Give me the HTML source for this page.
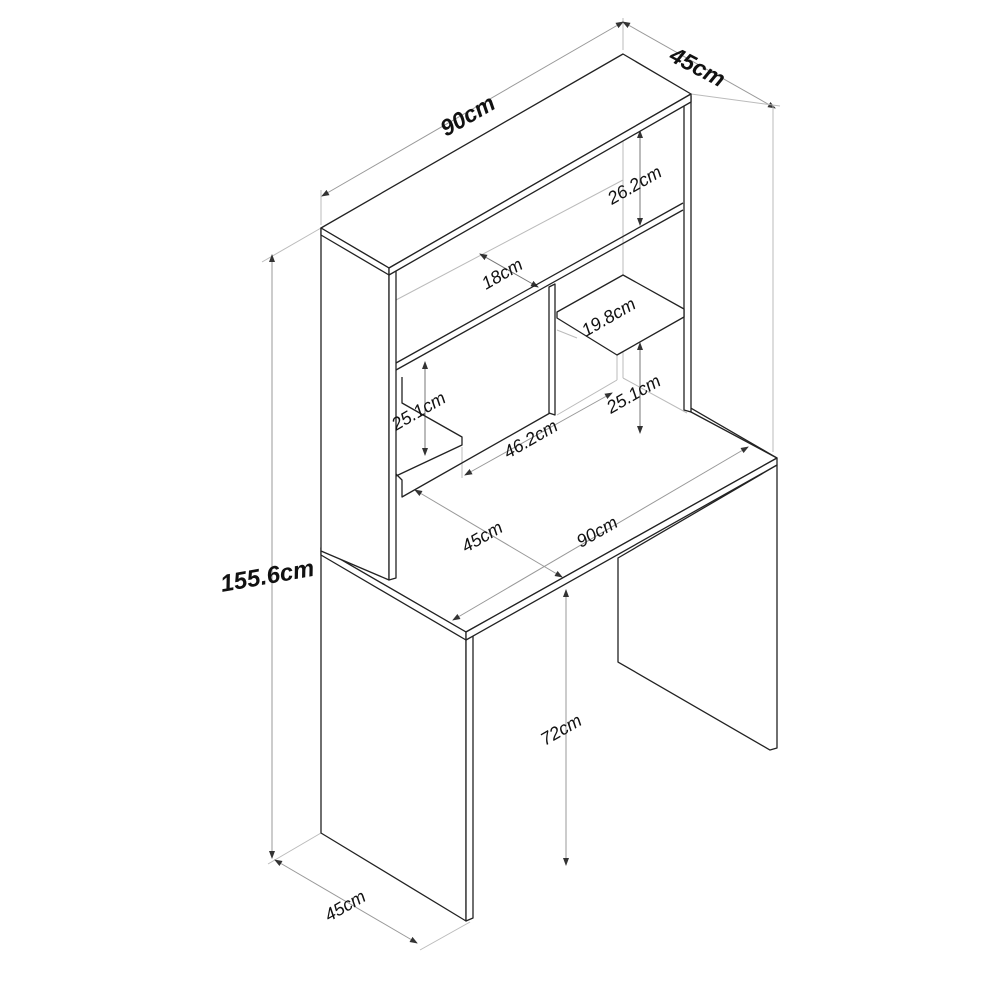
<!DOCTYPE html>
<html><head><meta charset="utf-8"><style>
html,body{margin:0;padding:0;background:#fff;}
svg{display:block}
text{font-family:"Liberation Sans",sans-serif;font-style:italic;fill:#111}
</style></head><body>
<svg width="1000" height="1000" viewBox="0 0 1000 1000" xmlns="http://www.w3.org/2000/svg">
<defs>
<marker id="a" markerWidth="8" markerHeight="8" refX="7" refY="4" orient="auto-start-reverse" markerUnits="userSpaceOnUse">
<path d="M0,1 L8,4 L0,7 z" fill="#333"/></marker>
</defs>
<g fill="none" stroke="#bbb" stroke-width="1">
<line x1="321" y1="225" x2="321" y2="190"/>
<line x1="623" y1="50" x2="623" y2="18"/>
<line x1="322" y1="196" x2="623" y2="22" stroke="#999" marker-start="url(#a)" marker-end="url(#a)"/>
<line x1="623" y1="22" x2="775" y2="108" stroke="#999" marker-start="url(#a)" marker-end="url(#a)"/>
<line x1="691" y1="94" x2="780" y2="106"/>
<line x1="773" y1="105" x2="773" y2="452"/>
<line x1="321" y1="228" x2="262" y2="262"/>
<line x1="272" y1="255" x2="272" y2="858" stroke="#999" marker-start="url(#a)" marker-end="url(#a)"/>
<line x1="321" y1="833" x2="268" y2="864"/>
<line x1="275" y1="860" x2="417" y2="943" stroke="#999" marker-start="url(#a)" marker-end="url(#a)"/>
<line x1="470" y1="922" x2="420" y2="950"/>
</g>
<g fill="#fff" stroke="#222" stroke-width="1.3" stroke-linejoin="round">
<polygon points="618,558 777,465 777,748 770,750 618,662"/>
<polygon points="321,551 466,637 466,921 321,833"/>
<polygon points="466,637 473,633 473,918 466,921"/>
<polygon points="321,548 632,374 777,458 466,632"/>
<polygon points="321,548 466,632 466,640 321,555"/>
<polygon points="466,632 777,458 777,465 466,640"/>
</g>
<polygon points="321,228 623,54 691,94 691,412 389,580 321,551" fill="#fff" stroke="none"/>
<g fill="none" stroke="#bbb" stroke-width="1">
<line x1="396" y1="300" x2="623" y2="180"/>
<line x1="623" y1="130" x2="623" y2="378"/>
<line x1="623" y1="378" x2="687" y2="413"/>
<line x1="617" y1="380" x2="557" y2="415"/>
<line x1="617" y1="355" x2="617" y2="380"/>
<line x1="462" y1="447" x2="462" y2="478"/>
<line x1="557" y1="330" x2="577" y2="338"/>
<line x1="415" y1="490" x2="562" y2="577" stroke="#999" marker-start="url(#a)" marker-end="url(#a)"/>
<line x1="453" y1="620" x2="748" y2="447" stroke="#999" marker-start="url(#a)" marker-end="url(#a)"/>
<line x1="566" y1="590" x2="566" y2="865" stroke="#999" marker-start="url(#a)" marker-end="url(#a)"/>
<line x1="640" y1="131" x2="640" y2="225" stroke="#777" marker-start="url(#a)" marker-end="url(#a)"/>
<line x1="480" y1="254" x2="538" y2="287" stroke="#777" marker-start="url(#a)" marker-end="url(#a)"/>
<line x1="640" y1="343" x2="640" y2="433" stroke="#777" marker-start="url(#a)" marker-end="url(#a)"/>
<line x1="425" y1="362" x2="425" y2="455" stroke="#777" marker-start="url(#a)" marker-end="url(#a)"/>
<line x1="465" y1="475" x2="612" y2="393" stroke="#999" marker-start="url(#a)" marker-end="url(#a)"/>
</g>
<g fill="#fff" stroke="#222" stroke-width="1.3" stroke-linejoin="round">
<line x1="691" y1="412" x2="777" y2="458"/>
<polygon points="321,228 389,268 389,580 321,551"/>
<polygon points="389,268 396,264 396,578 389,580"/>
<polygon points="684,100 691,96 691,412 684,410"/>
<polygon points="321,228 623,54 691,94 389,268"/>
<polygon points="321,228 389,268 389,275 321,235"/>
<polygon points="389,268 691,94 691,102 389,275"/>
<polyline points="396,363 683,203" fill="none"/>
<polyline points="396,370 683,210" fill="none"/>
<polygon points="549,287 555,284 555,415 549,413"/>
<polygon points="557,312 623,275 684,309 684,317 617,355 557,318"/>
<polyline points="402,377 402,403 462,437 462,445 396,476" fill="none"/>
<polyline points="396,474 402,480 402,497 550,413" fill="none"/>
</g>
<g font-size="18">
<text transform="translate(446,137) rotate(-30)" font-size="23" font-weight="bold">90cm</text>
<text transform="translate(668,60) rotate(28)" font-size="23" font-weight="bold">45cm</text>
<text transform="translate(222,592) rotate(-10)" font-size="24" font-weight="bold">155.6cm</text>
<text transform="translate(612,205) rotate(-30)">26.2cm</text>
<text transform="translate(486,290) rotate(-30)">18cm</text>
<text transform="translate(586,337) rotate(-30)">19.8cm</text>
<text transform="translate(611,414) rotate(-30)">25.1cm</text>
<text transform="translate(396,431) rotate(-30)">25.1cm</text>
<text transform="translate(508,459) rotate(-30)">46.2cm</text>
<text transform="translate(466,553) rotate(-30)">45cm</text>
<text transform="translate(581,548) rotate(-30)">90cm</text>
<text transform="translate(545,746) rotate(-30)">72cm</text>
<text transform="translate(329,922) rotate(-30)">45cm</text>
</g>
</svg>
</body></html>
